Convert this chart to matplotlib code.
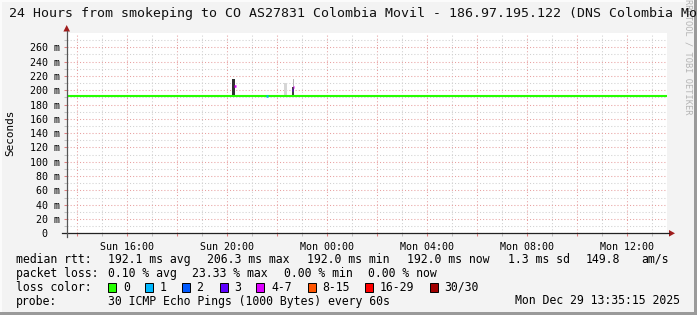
import numpy as np
import matplotlib
matplotlib.use("Agg")
import matplotlib.pyplot as plt
from matplotlib.patches import Polygon, Rectangle
from matplotlib.lines import Line2D

plt.rcParams['font.family'] = ['DejaVu Sans Mono']

W, H = 697, 315

# time axis in hours since Sunday 00:00
t_start = 13 + 35/60
t_end = 37 + 35/60
median_base = 192.0            # ms, loss 0

# smoke columns: time (h), low (ms), high (ms), shade
smoke_t = [20.27, 22.33, 22.62, 22.66]
smoke_lo = [193.0, 193.0, 193.0, 205.0]
smoke_hi = [216.0, 210.0, 205.0, 216.0]
smoke_c = ['#303030', '#d6d6d6', '#404040', '#b8b8b8']
smoke_w = [0.12, 0.10, 0.08, 0.04]

# median points with packet loss
loss_t = [20.31, 21.60, 22.61, 22.66]
loss_v = [206.3, 192.0, 200.0, 204.0]
loss_c = ['#dd00ff', '#00b8ff', '#5e00ff', '#dd00ff']

y_ticks = list(range(0, 261, 20))
x_label_ticks = [16, 20, 24, 28, 32, 36]
x_labels = ['Sun 16:00', 'Sun 20:00', 'Mon 00:00', 'Mon 04:00', 'Mon 08:00', 'Mon 12:00']

legend_names = ['0', '1', '2', '3', '4-7', '8-15', '16-29', '30/30']
legend_cols = ['#26ff00', '#00b8ff', '#0059ff', '#5e00ff', '#dd00ff', '#ff5500', '#ff0000', '#a10000']


def P(x, y):
    return x / W, 1 - y / H


fig = plt.figure(figsize=(W / 100, H / 100), dpi=100, facecolor='#f3f3f3')
ax = fig.add_axes([66.7 / W, 1 - 233.3 / H, 600 / W, 200.3 / H])
ax.set_facecolor('white')
ax.set_xlim(t_start, t_end)
ax.set_ylim(0, 280)
for s in ax.spines.values():
    s.set_visible(False)

# grid
ax.set_xticks(np.arange(14, 38, 2))
ax.set_xticks(np.arange(14, 38, 1), minor=True)
ax.set_yticks(y_ticks)
ax.set_yticks(range(0, 271, 10), minor=True)
ax.grid(which='minor', color='#d0d0d0', linestyle=(0, (1, 2)), lw=0.75)
ax.grid(which='major', color='#e8a0a0', linestyle=(0, (1, 2)), lw=0.75)
ax.tick_params(which='major', length=2.5, width=0.75, color='#e08080', pad=2.2, labelsize=7.2)
ax.tick_params(which='minor', length=2, width=0.75, color='#c0c0c0')
ax.set_axisbelow(True)

ax.set_yticklabels([f'{v} m' if v else '0  ' for v in y_ticks])
xl = []
for t in np.arange(14, 38, 2):
    xl.append(x_labels[x_label_ticks.index(t)] if t in x_label_ticks else '')
ax.set_xticklabels(xl)
ax.tick_params(axis='x', pad=3.5)

# smoke
ax.bar(smoke_t, np.subtract(smoke_hi, smoke_lo), bottom=smoke_lo, width=smoke_w,
       color=smoke_c, lw=0, zorder=3)
# median
ax.plot([t_start, t_end], [median_base, median_base], color='#26ff00', lw=1.5,
        solid_capstyle='butt', zorder=4)
for t, v, c in zip(loss_t, loss_v, loss_c):
    ax.plot([t - 0.03, t + 0.03], [v, v], color=c, lw=1.8, solid_capstyle='butt', zorder=5)

# axis lines with arrows
fig.add_artist(Line2D(*zip(P(62, 233.3), P(669, 233.3)), color='#222222', lw=0.9))
fig.add_artist(Line2D(*zip(P(66.7, 237), P(66.7, 31)), color='#555555', lw=0.9))
fig.add_artist(Polygon([P(669, 230), P(669, 236.6), P(675, 233.3)], closed=True,
                       color='#a01c1c', lw=0))
fig.add_artist(Polygon([P(63.4, 31.5), P(70, 31.5), P(66.7, 25)], closed=True,
                       color='#a01c1c', lw=0))

# y label
fig.text(*P(10, 133), 'Seconds', rotation=90, ha='center', va='center', fontsize=7.9)

# watermark
fig.text(*P(688, 115), 'RRDTOOL / TOBI OETIKER', rotation=270, ha='center', va='bottom',
         fontsize=6.2, color='#b4b4b4')

# title
fig.text(*P(8.9, 14), '24 Hours from smokeping to CO AS27831 Colombia Movil - 186.97.195.122 (DNS Colombia Movil)',
         ha='left', va='center', fontsize=9.55, color='#111111')

# legend rows
fs = 8.3
fig.text(*P(16, 259.3), 'median rtt:', va='center', fontsize=fs)
for x, s in [(107.6, '192.1 ms avg'), (207, '206.3 ms max'), (307.3, '192.0 ms min'),
             (407.3, '192.0 ms now'), (507.7, '1.3 ms sd'), (586, '149.8'), (641.7, 'am/s')]:
    fig.text(*P(x, 259.3), s, va='center', fontsize=fs)

fig.text(*P(16, 273.3), 'packet loss:', va='center', fontsize=fs)
for x, s in [(107.6, '0.10 % avg'), (192.4, '23.33 % max'), (284.5, '0.00 % min'),
             (368, '0.00 % now')]:
    fig.text(*P(x, 273.3), s, va='center', fontsize=fs)

fig.text(*P(16, 287.3), 'loss color:', va='center', fontsize=fs)
box_x = [108.4, 145.3, 182, 219.6, 256.4, 307.6, 365.3, 430]
for bx, name, col in zip(box_x, legend_names, legend_cols):
    x0, y0 = P(bx, 291.5)
    fig.add_artist(Rectangle((x0, y0), 8 / W, 9 / H, facecolor=col, edgecolor='black', lw=0.7))
    fig.text(*P(bx + 14.6, 287.3), name, va='center', fontsize=fs)

fig.text(*P(16, 301), 'probe:', va='center', fontsize=fs)
fig.text(*P(107.6, 301), '30 ICMP Echo Pings (1000 Bytes) every 60s', va='center', fontsize=fs)
fig.text(*P(680, 301), 'Mon Dec 29 13:35:15 2025', va='center', ha='right', fontsize=fs)

# frame shading
fig.add_artist(Rectangle(P(0, 315), 2 / W, 1, facecolor='#fbfbfb', lw=0))
fig.add_artist(Rectangle(P(0, 2), 1, 2 / H, facecolor='#fbfbfb', lw=0))
fig.add_artist(Rectangle(P(694, 315), 3 / W, 1, facecolor='#9a9a9a', lw=0))
fig.add_artist(Rectangle(P(0, 315), 1, 3 / H, facecolor='#9a9a9a', lw=0))

fig.savefig('out.png', dpi=100, facecolor=fig.get_facecolor())
